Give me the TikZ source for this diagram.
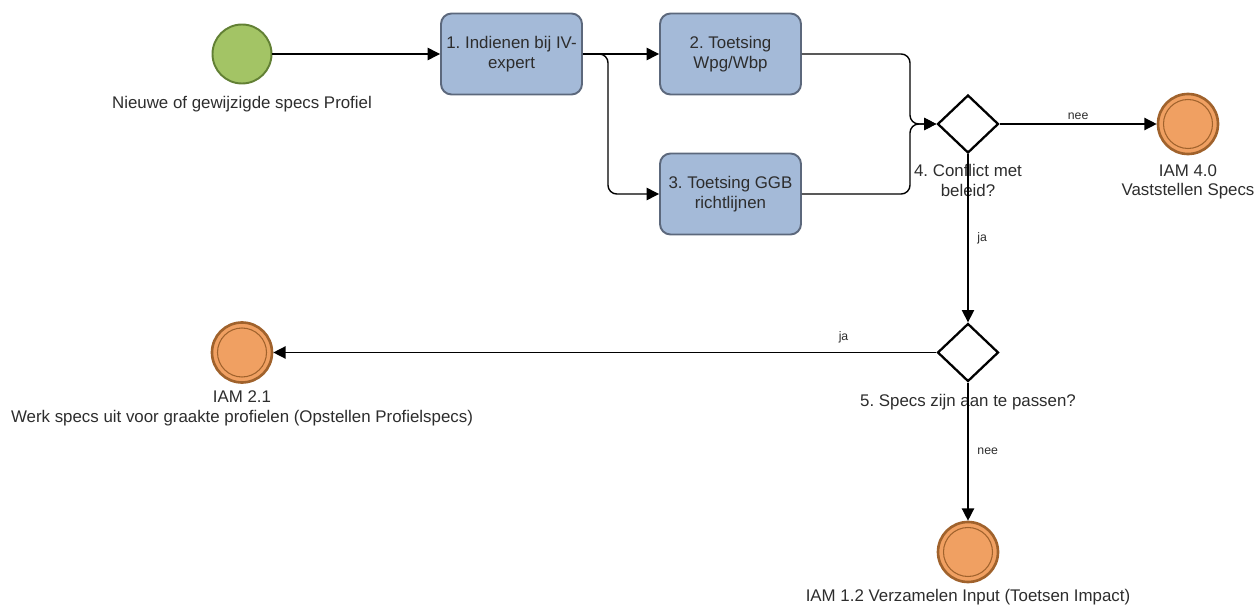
\documentclass[tikz,border=0pt]{standalone}
\usepackage{fontspec}
\setmainfont{Liberation Sans}
\frenchspacing
\definecolor{bpgreen}{RGB}{163,196,101}
\definecolor{bpgreenline}{RGB}{98,128,52}
\definecolor{bpblue}{RGB}{164,186,216}
\definecolor{bpblueline}{RGB}{92,104,124}
\definecolor{bporange}{RGB}{240,160,98}
\definecolor{bporangeline}{RGB}{160,98,44}
\definecolor{bptext}{RGB}{45,45,45}
\usetikzlibrary{arrows.meta,positioning,shapes.geometric}

\begin{document}
\begin{tikzpicture}[
  every node/.style={font=\fontsize{9.6}{11.2}\selectfont, text=bptext, align=center},
  task/.style={draw=bpblueline, fill=bpblue, rounded corners=6pt, line width=1.1pt,
               minimum width=2.82cm, minimum height=1.62cm, inner sep=2pt},
  startevent/.style={circle, draw=bpgreenline, fill=bpgreen, line width=1.1pt,
                     minimum size=1.18cm, inner sep=0pt},
  endevent/.style={circle, draw=bporangeline, fill=bporange, line width=1.5pt,
                   minimum size=1.2cm, inner sep=0pt,
                   path picture={\draw[bporangeline, line width=0.6pt]
                     (path picture bounding box.center) circle (0.49cm);}},
  gateway/.style={diamond, draw=black, fill=white, line width=1.3pt,
                  minimum width=1.22cm, minimum height=1.16cm, inner sep=0pt},
  flow/.style={-{Triangle[length=7pt, width=7pt]}, black, line width=0.8pt},
  lbl/.style={font=\fontsize{7}{8}\selectfont, inner sep=2pt},
]
\useasboundingbox (0,0) rectangle (25.1,-12.1);

% Start event and first task
\node[startevent] (start) at (4.84,-1.08) {};
\node[below=0.12cm of start] (startlbl) {Nieuwe of gewijzigde specs Profiel};

\node[task] (t1) at (10.23,-1.08) {1. Indienen bij IV-\\expert};

% Parallel checks
\node[task] (t2) at (14.61,-1.08) {2. Toetsing\\Wpg/Wbp};
\node[task] (t3) at (14.61,-3.88) {3. Toetsing GGB\\richtlijnen};

% Gateways
\node[gateway] (g4) at (19.36,-2.48) {};
\node[below=0.08cm of g4] (g4lbl) {4. Conflict met\\beleid?};

\node[gateway] (g5) at (19.36,-7.05) {};
\node[below=0.1cm of g5] (g5lbl) {5. Specs zijn aan te passen?};

% End events
\node[endevent] (e40) at (23.76,-2.48) {};
\node[below=0.06cm of e40] (e40lbl) {IAM 4.0\\Vaststellen Specs};

\node[endevent] (e21) at (4.84,-7.05) {};
\node[below=0.02cm of e21] (e21lbl) {IAM 2.1\\Werk specs uit voor graakte profielen (Opstellen Profielspecs)};

\node[endevent] (e12) at (19.36,-11.04) {};
\node[below=0cm of e12] (e12lbl) {IAM 1.2 Verzamelen Input (Toetsen Impact)};

% Split and merge points
\coordinate (split) at (12.16,-1.08);
\coordinate (merge) at (18.2,-2.48);

% Sequence flows
\draw[flow] (start) -- (t1);
\draw[flow] (t1.east) -- (t2.west);
\draw[flow, rounded corners=5pt] (t1.east) -- (split) |- (t3.west);
\draw[flow, rounded corners=5pt] (t2.east) -| (merge) -- (g4.west);
\draw[flow, rounded corners=5pt] (t3.east) -| (merge) -- (g4.west);

\draw[flow] (g4.east) -- (e40.west) node[lbl, midway, above] {nee};
\draw[flow] (g4.south) -- (g5.north) node[lbl, midway, right=3pt] {ja};
\draw[flow] (g5.west) -- (e21.east) node[lbl, pos=0.14, above=3pt] {ja};
\draw[flow] (g5.south) -- (e12.north) node[lbl, midway, right=3pt] {nee};

\end{tikzpicture}
\end{document}
